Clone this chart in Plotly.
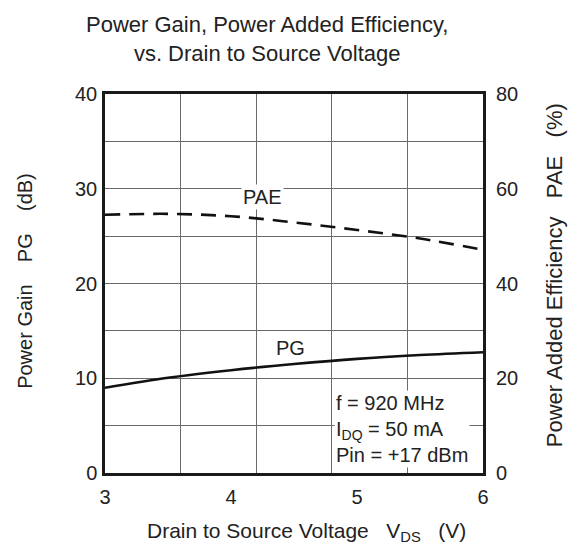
import plotly.graph_objects as go

# drain to source voltage (V)
vds = [3.0, 3.5, 4.0, 4.5, 5.0, 5.5, 6.0]
# power gain (dB), left axis
pg = [9.0, 10.05, 10.85, 11.5, 12.05, 12.45, 12.75]
# power added efficiency (%), right axis
pae = [54.5, 54.7, 54.2, 52.9, 51.3, 49.5, 47.1]

x_ticks = [3, 4, 5, 6]
x_grid = [3.6, 4.2, 4.8, 5.4]
y_ticks = [0, 5, 10, 15, 20, 25, 30, 35, 40]
y_labels = ["0", "", "10", "", "20", "", "30", "", "40"]
y2_ticks = [0, 20, 40, 60, 80]

FONT = "Liberation Sans, Arial, sans-serif"
TXT = "#222222"
GRID = "#6a6a6a"
FRAME = "#1a1a1a"
GAP = "&nbsp;&nbsp;&nbsp;"
GAP_L = "&nbsp;&nbsp;&nbsp;&nbsp;"

fig = go.Figure()
fig.add_scatter(
    x=vds, y=pg, mode="lines", line={"color": "#111111", "width": 2.6, "shape": "spline"},
    showlegend=False,
)
fig.add_scatter(
    x=vds, y=pae, mode="lines", yaxis="y2",
    line={"color": "#111111", "width": 2.6, "dash": "15px,9px", "shape": "spline"},
    showlegend=False,
)

fig.update_layout(
    width=579,
    height=558,
    paper_bgcolor="white",
    plot_bgcolor="white",
    margin={"l": 105, "r": 96, "t": 94, "b": 85, "autoexpand": False},
    font={"family": FONT, "size": 20, "color": TXT},
    xaxis={
        "range": [3, 6],
        "tickvals": x_ticks,
        "showgrid": False,
        "zeroline": False,
        "showline": True,
        "mirror": True,
        "linecolor": FRAME,
        "linewidth": 2.5,
        "ticks": "",
        "ticklabelstandoff": 4,
        "automargin": False,
        "minor": {"tickvals": x_grid, "showgrid": True, "gridcolor": GRID, "gridwidth": 1, "ticks": ""},
    },
    yaxis={
        "range": [0, 40],
        "tickvals": y_ticks,
        "ticktext": y_labels,
        "showgrid": True,
        "gridcolor": GRID,
        "gridwidth": 1,
        "zeroline": False,
        "showline": True,
        "mirror": True,
        "linecolor": FRAME,
        "linewidth": 2.5,
        "ticks": "",
        "ticklabelstandoff": 1,
        "automargin": False,
    },
    yaxis2={
        "range": [0, 80],
        "tickvals": y2_ticks,
        "overlaying": "y",
        "side": "right",
        "showgrid": False,
        "zeroline": False,
        "ticks": "",
        "ticklabelstandoff": 12,
        "automargin": False,
    },
    annotations=[
        {
            "text": "Power Gain, Power Added Efficiency,<br>vs. Drain to Source Voltage",
            "xref": "paper", "yref": "paper", "x": 0.4286, "y": 1.145,
            "xanchor": "center", "yanchor": "middle", "showarrow": False,
            "font": {"size": 22},
        },
        {
            "text": "Drain to Source Voltage" + GAP + "V<sub>DS</sub>" + GAP + "(V)",
            "xref": "paper", "yref": "paper", "x": 0.534, "y": -0.156,
            "xanchor": "center", "yanchor": "middle", "showarrow": False,
            "font": {"size": 21},
        },
        {
            "text": "Power Gain" + GAP_L + "PG" + GAP_L + "(dB)",
            "xref": "paper", "yref": "paper", "x": -0.2116, "y": 0.507,
            "xanchor": "center", "yanchor": "middle", "showarrow": False,
            "textangle": -90, "font": {"size": 20},
        },
        {
            "text": "Power Added Efficiency" + GAP + "PAE" + GAP + "(%)",
            "xref": "paper", "yref": "paper", "x": 1.188, "y": 0.522,
            "xanchor": "center", "yanchor": "middle", "showarrow": False,
            "textangle": -90, "font": {"size": 22},
        },
        {
            "text": "PAE", "x": 4.246, "y": 29.1, "showarrow": False,
            "bgcolor": "white", "borderpad": 1,
        },
        {
            "text": "PG", "x": 4.47, "y": 13.2, "showarrow": False,
        },
        {
            "text": "f = 920 MHz<br>I<sub>DQ</sub> = 50 mA<br>Pin = +17 dBm",
            "x": 4.816, "y": 0.55, "xanchor": "left", "yanchor": "bottom",
            "align": "left", "showarrow": False, "bgcolor": "white", "borderpad": 1,
        },
    ],
)

# drop the page's default body margin so the figure sits at the window's corner
fig.write_html(
    "out.html",
    config={"displayModeBar": False},
    post_script="document.body.style.margin = '0';",
)
